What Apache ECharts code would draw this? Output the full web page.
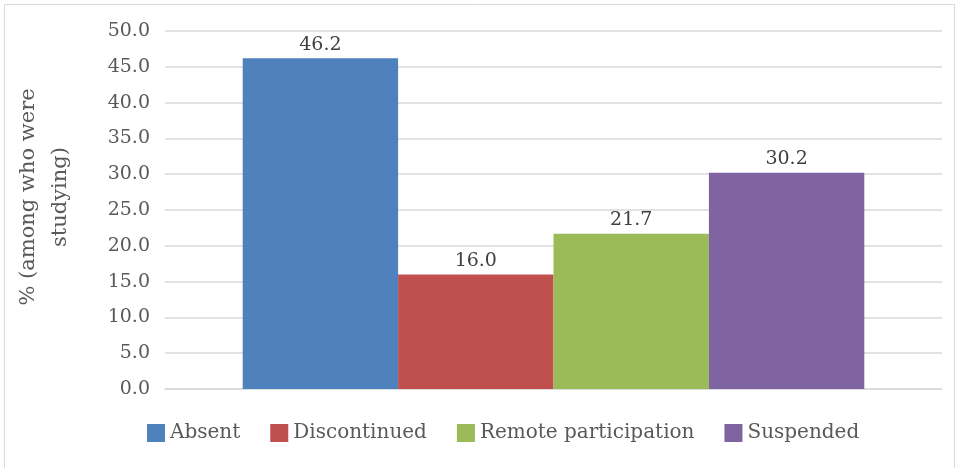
<!DOCTYPE html>
<html>
<head>
<meta charset="utf-8">
<script src="https://cdn.jsdelivr.net/npm/echarts@6/dist/echarts.min.js"></script>
<style>
  html, body { margin: 0; padding: 0; background: #fff; }
  #chart { width: 956px; height: 468px; }
</style>
</head>
<body>
<div id="chart"></div>
<script>
  // data
  var seriesNames = ['Absent', 'Discontinued', 'Remote participation', 'Suspended'];
  var seriesValues = [46.2, 16.0, 21.7, 30.2];
  var seriesColors = ['#4f81bd', '#c0504d', '#9bbb59', '#8064a2'];
  var categories = [''];
  var yTitle = '% (among who were\nstudying)';

  var font = 'DejaVu Serif';
  var textColor = '#595959';

  var chart = echarts.init(document.getElementById('chart'));

  var series = seriesNames.map(function (name, i) {
    return {
      name: name,
      type: 'bar',
      data: [seriesValues[i]],
      barGap: '0%',
      barCategoryGap: '20%',
      itemStyle: { color: seriesColors[i] },
      label: {
        show: true,
        position: 'top',
        distance: 4,
        fontFamily: font,
        fontSize: 19,
        color: '#404040',
        formatter: function (p) { return p.value.toFixed(1) }
      }
    }
  });

  chart.setOption({
    animation: false,
    textStyle: { fontFamily: font },
    graphic: [
      {
        type: 'rect',
        shape: { x: 4.5, y: 4.5, width: 950, height: 470 },
        style: { fill: 'none', stroke: '#d9d9d9', lineWidth: 1 }
      },
      {
        type: 'text',
        x: 45,
        y: 197,
        rotation: Math.PI / 2,
        style: {
          text: yTitle,
          fontFamily: font,
          fontSize: 21,
          fill: textColor,
          align: 'center',
          verticalAlign: 'middle',
          lineHeight: 32
        }
      }
    ],
    grid: { left: 165, right: 14, top: 31, bottom: 79 },
    legend: {
      left: 142,
      top: 418,
      itemWidth: 18,
      itemHeight: 18,
      itemGap: 30,
      icon: 'rect',
      textStyle: { fontFamily: font, fontSize: 20, color: textColor },
      data: seriesNames
    },
    xAxis: {
      type: 'category',
      data: categories,
      axisLine: { lineStyle: { color: '#d9d9d9', width: 1.5 } },
      axisTick: { show: false },
      axisLabel: { show: false }
    },
    yAxis: {
      type: 'value',
      min: 0,
      max: 50,
      interval: 5,
      axisLine: { show: false },
      axisTick: { show: false },
      splitLine: { lineStyle: { color: '#d9d9d9', width: 1.5 } },
      axisLabel: {
        margin: 15,
        fontFamily: font,
        fontSize: 19,
        color: textColor,
        formatter: function (v) { return v.toFixed(1) }
      }
    },
    series: series
  });
</script>
</body>
</html>
